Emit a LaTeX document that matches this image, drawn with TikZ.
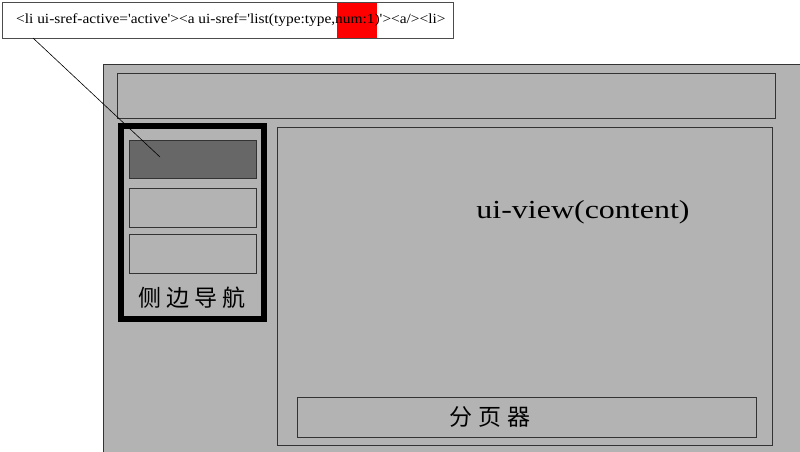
\documentclass[tikz,border=0pt]{standalone}
\usepackage{fontspec}
\setmainfont{Liberation Serif}
\newfontfamily\cjk{Noto Sans CJK SC}
\usetikzlibrary{positioning}
\definecolor{panel}{RGB}{179,179,179}
\definecolor{activeitem}{RGB}{103,103,103}
\tikzset{box/.style={draw=black!80,fill=panel,anchor=north west,inner sep=0pt,outer sep=0pt,line width=0.8pt}}
\tikzset{item/.style={box,minimum width=127,minimum height=39}}

\begin{document}
\begin{tikzpicture}[x=1pt,y=-1pt]
            \clip (0,0) rectangle (800,451);
            \node[box,fill=white,draw=black!70,minimum width=451,minimum height=36] (code) at (2,2) {};
            \node[fill=red,anchor=north west,inner sep=0pt,minimum width=40,minimum height=35.2] (mark) at (337,2.4) {};
            \node[anchor=west,inner sep=0pt,font=\fontsize{14}{14}\selectfont] (codetext) at (16,20)
                {\scalebox{1.1}[1]{<li ui-sref-active=\textquotesingle active\textquotesingle><a ui-sref=\textquotesingle list(type:type,num:1)\textquotesingle><a/><li>}};

            \node[box,minimum width=700,minimum height=400] (page) at (103,64) {};
            \node[box,minimum width=658,minimum height=45] (header) at (117,73) {};
            \node[box,draw=black,line width=5.5pt,minimum width=143,minimum height=193] (sidebar) at (121,126) {};
            \node[item,fill=activeitem,minimum height=38] (item1) at (129,140) {};
            \node[item] (item2) at (129,188) {};
            \node[item] (item3) at (129,234) {};
            \node[font=\cjk\fontsize{23}{23}\selectfont] (navlabel) at (192,298) {侧\hspace{5pt}边\hspace{5pt}导\hspace{5pt}航};
            \node[box,minimum width=495,minimum height=318] (content) at (277,127) {};
            \node[font=\fontsize{26}{26}\selectfont] (viewlabel) at (583,212) {\scalebox{1.23}[1]{ui-view(content)}};
            \node[box,minimum width=459,minimum height=40] (pager) at (297,397) {};
            \node[font=\cjk\fontsize{23}{23}\selectfont] (pagerlabel) at (490,417) {分\hspace{6pt}页\hspace{6pt}器};

            \coordinate (from) at (33,38);
            \coordinate (to) at (160,157);
            \path[draw, line width=0.6pt]
            (from) edge (to);
        \end{tikzpicture}
\end{document}
